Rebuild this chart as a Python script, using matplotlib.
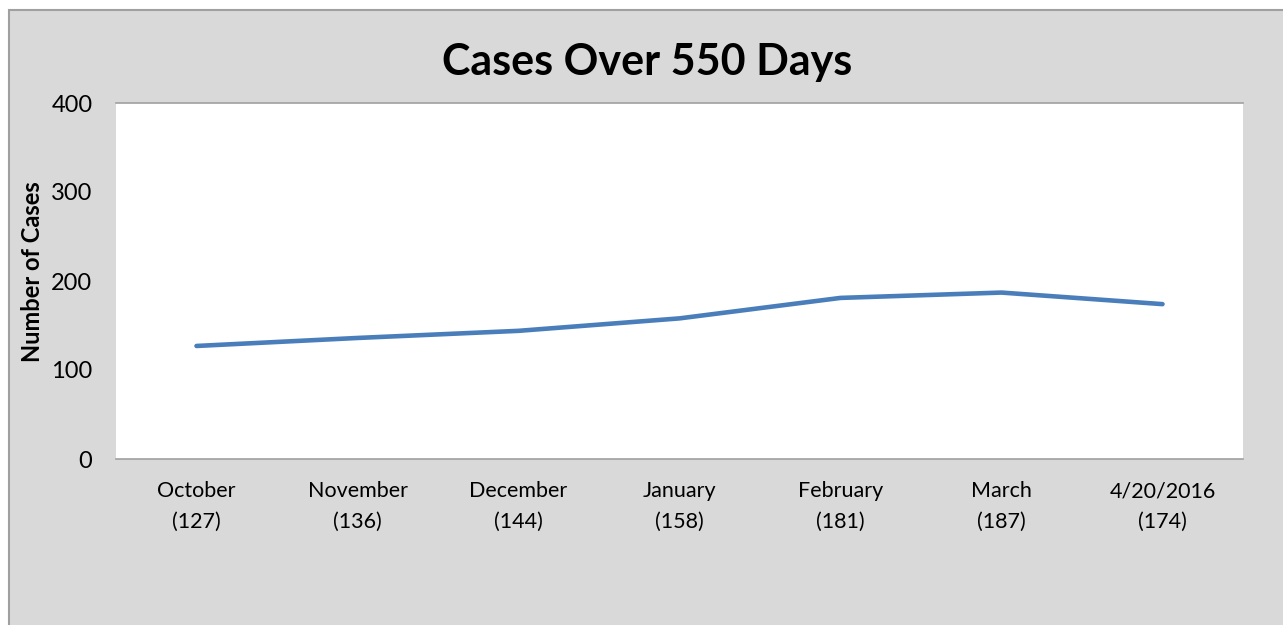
import matplotlib.pyplot as plt
from matplotlib.patches import Rectangle

# Chart data
months = ['October', 'November', 'December', 'January', 'February', 'March', '4/20/2016']
cases = [127, 136, 144, 158, 181, 187, 174]
y_ticks = [0, 100, 200, 300, 400]

plt.rcParams['font.family'] = ['Lato', 'DejaVu Sans']

W, H = 1283, 625
fig = plt.figure(figsize=(W / 100, H / 100), dpi=100)
fig.patch.set_facecolor('white')

# Chart area frame (gray, bordered, runs off the right/bottom edges)
fig.patches.append(Rectangle((9 / W, -0.1), 1.2, 1 - 10 / H + 0.1,
                             transform=fig.transFigure, facecolor='#d9d9d9',
                             edgecolor='#a0a0a0', linewidth=1.5, zorder=-10))

ax = fig.add_axes([116 / W, 1 - 459 / H, (1243 - 116) / W, (459 - 103) / H])
ax.set_zorder(5)
ax.set_facecolor('white')

x = list(range(len(months)))
ax.plot(x, cases, color='#4a7ebb', linewidth=3.3, solid_capstyle='round')

ax.set_xlim(-0.5, len(months) - 0.5)
ax.set_ylim(0, 400)
ax.set_yticks(y_ticks)
ax.set_xticks(x)
ax.set_xticklabels([f'{m}\n({c})' for m, c in zip(months, cases)], linespacing=1.65)

ax.tick_params(axis='y', length=0, pad=17, labelsize=17, labelcolor='black')
ax.tick_params(axis='x', length=0, pad=16, labelsize=15.5, labelcolor='black')

for side in ['left', 'right']:
    ax.spines[side].set_visible(False)
for side in ['top', 'bottom']:
    ax.spines[side].set_color('#a0a0a0')
    ax.spines[side].set_linewidth(1.2)

fig.text(647 / W, 1 - 62 / H, 'Cases Over 550 Days', ha='center', va='center',
         fontsize=31, fontweight='bold')
fig.text(33 / W, 1 - 272 / H, 'Number of Cases', ha='center', va='center',
         rotation=90, fontsize=17, fontweight='bold')

plt.savefig('out.png', dpi=100)
